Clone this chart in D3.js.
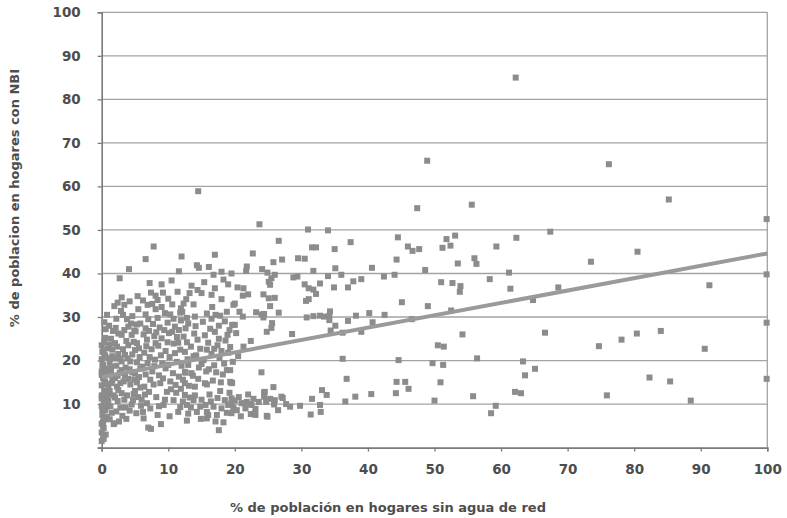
<!DOCTYPE html>
<html><head><meta charset="utf-8">
<script src="https://cdn.jsdelivr.net/npm/d3@7"></script>
<style>
html,body{margin:0;padding:0;background:#fff;}
svg{display:block;}
text{font-family:"DejaVu Sans",sans-serif;font-weight:bold;fill:#4d4d4d;}
</style></head>
<body>
<svg id="chart" width="787" height="518"></svg>
<script>
// ---- data (x: % sin agua de red, y: % con NBI) ----
const xTicks = [0,10,20,30,40,50,60,70,80,90,100];
const yTicks = [10,20,30,40,50,60,70,80,90,100];
const xTitle = "% de población en hogares sin agua de red";
const yTitle = "% de poblacion en hogares con NBI";
const trendIntercept = 16.2;
const trendSlope = 0.284;

const puntosColumnaCero = [
[0,1.5],[0.2,2.5],[0,3.5],[0.3,4.5],[0,5.5],[0.4,6.5],[0.1,7.5],[0.5,8.5],[0,9.5],[0.3,10.5],[0.8,11.2],[0,12],[0.4,13],[1.0,13.6],[0,14.3],[0.5,15.2],[0.2,16],[1.1,16.8],[0,17.5],[0.6,18.2],[0.2,19],[1.2,19.6],[0,20.3],[0.5,21.2],[0.1,22],[0.9,22.8],[0,23.5],[0.5,25.2],[1.7,26.8],[0.3,2],[0.6,3],[0.2,5],[0.8,7],[0.1,8.8],[1.3,9.5],[0.7,10],[1.0,12.3],[1.5,14.8],[0.8,17.2],[1.4,18.5],[1.6,21],[1.2,23.6],[0,16.7],[0,11.3],[0.4,24.2],
[0.2,6],[0.6,9.2],[0.3,11.8],[0.7,14.6],[0.1,18.8],[0.6,20.7],[0.3,22.4],[0.6,27.2],[0.4,28.8],[0.8,30.5]
];
const puntosBajos = [
[1.8,5.4],[1.9,5.6],[3.7,6.6],[2.2,8.3],[2.8,9.2],[3.0,12.5],[3.4,11],[4.7,10.9],[2.5,13.2],[2.3,14.0],[3.3,15.2],[4.3,14.5],[5.8,13.8],[2.0,16],[2.7,17.2],[3.5,16.5],[4.2,18],[5.0,17],[5.6,16.2],[2.2,18.8],[3.0,19.8],[3.9,20.5],[4.6,21.4],[5.3,19.6],[2.5,21.5],[3.2,22.6],[4.0,23.5],[4.8,24.3],[5.6,22.8],[2.0,24],[3.0,25.9],[4.5,25.9],[4.0,27.8],[4.4,28.5],[5.3,28.3],[5.8,28.5],[2.4,33.3],[3.4,32.8],[2.9,31.4],[2.7,38.9],[4.1,41.0],[3.8,29.5],[2.1,27.5],[5.1,26.7],[1.8,12],[4.8,12.3],[5.5,11.6],[5.9,9.6],[4.2,8.5],[3.1,7.3],[5.2,7.9],[2.4,10.7],[1.9,20.5],[5.7,20.8],[3.6,18.4],[4.9,15.6],[1.6,15.5],
[1.2,6.5],[2.6,6.0],[1.5,8.0],[3.6,9.2],[4.5,9.9],[1.0,10.8],[2.0,11.5],[3.8,12.0],[5.0,13.0],[1.2,13.0],[2.8,14.8],[4.0,15.8],[5.3,15.0],[1.4,17.5],[2.4,16.5],[3.0,17.8],[4.6,17.3],[5.8,18.2],[1.3,20.5],[2.7,20.4],[3.5,21.3],[4.3,19.8],[5.0,22.4],[1.6,22.5],[2.3,23.2],[3.7,24.5],[5.3,24.0],[1.4,25.0],[2.5,26.2],[3.4,27.0],[4.9,26.9],[1.1,28.0],[2.2,29.6],[3.2,30.5],[4.6,30.2],[5.5,31.8],[1.9,32.5],[3.0,34.5],[4.2,33.6],[5.4,34.8],
[6.3,6.7],[7.4,4.3],[7.0,4.6],[8.9,5.4],[6.8,10.2],[7.3,9.0],[9.3,9.8],[9.8,12.8],[10.8,10.9],[11.5,8.2],[7.8,14.5],[8.8,14.8],[10.3,15.2],[6.5,12.2],[8.2,11.6],[11.2,12.6],[6.2,8.2],[8.4,7.5],[10.2,7.2],[11.8,9.3],[6.6,16.8],[7.6,17.5],[8.6,16.6],[9.6,18.2],[10.7,17.1],[11.6,16.3],[6.9,19.4],[8.0,20.2],[9.1,19.3],[10.2,20.8],[11.3,19.7],[6.4,21.8],[7.5,22.6],[8.5,23.4],[9.6,22.2],[10.8,23.9],[11.8,22.5],[6.8,24.8],[7.9,25.6],[9.0,25.1],[10.1,26.3],[11.3,25.4],[6.6,27.4],[7.7,28.4],[8.7,27.6],[9.9,28.7],[11.0,27.8],[11.9,29.2],[8.1,31.8],[9.5,30.9],[6.6,30.6],[10.3,30.6],[7.4,35.6],[8.1,34.9],[9.2,35.6],[8.4,33.9],[11.4,35.8],[6.9,32.8],[10.6,32.9],[7.8,46.2],[6.6,43.3],[12.0,43.9],[9.0,37.5],[10.5,38.4],[7.2,37.8],[11.6,40.5],
[6.0,11.0],[7.1,12.8],[8.6,9.5],[9.5,11.0],[10.4,13.4],[11.1,14.4],[6.4,14.0],[7.3,15.6],[9.2,15.9],[11.9,13.5],[6.1,18.6],[7.9,18.7],[8.9,21.2],[10.0,19.0],[11.0,21.7],[6.7,23.3],[7.2,20.8],[8.1,24.0],[9.9,24.2],[11.5,24.1],[6.3,26.0],[7.1,26.8],[8.2,26.5],[9.4,27.0],[10.6,26.6],[11.6,27.0],[7.0,29.5],[8.4,29.8],[9.0,32.3],[10.8,29.6],[11.8,31.0],[6.2,33.8],[7.6,33.0],[10.0,34.2]
];
const puntosMedios = [
[12.8,6.2],[14.9,6.6],[15.8,6.7],[17.1,6.0],[17.6,4.0],[18.3,5.8],[19.5,7.9],[19.8,8.6],[12.5,12.1],[12.8,9.8],[13.8,10.9],[14.3,8.2],[14.8,9.4],[15.8,8.2],[16.8,9.4],[17.3,7.5],[18.5,10.9],[19.0,9.8],[19.5,11.3],[12.5,14.8],[14.0,14.0],[15.8,14.5],[19.5,14.8],[13.2,11.5],[16.2,12.2],[17.8,13],[12.6,17.2],[13.7,16.5],[14.6,18.4],[15.7,17.5],[16.9,18.9],[18.2,16.8],[19.3,17.8],[12.9,20.3],[14.2,21.2],[15.3,20.1],[16.5,21.5],[17.7,20.6],[19.0,21.8],[13.4,23.2],[14.8,22.7],[16.0,24.1],[17.4,23.5],[18.6,24.6],[12.3,25.5],[13.9,26.2],[15.5,25.8],[17.0,26.6],[18.9,25.9],[14.0,30.1],[17.1,30.5],[17.8,30.3],[12.3,33.1],[12.7,34.1],[11.9,32.0],[12.1,31.2],[13.8,32.9],[16.6,32.3],[17.0,36.6],[16.5,35.1],[18.0,34.1],[19.8,32.8],[14.3,41.9],[14.6,41.3],[16.1,41.5],[16.8,39.7],[18.0,40.4],[19.5,40.0],[17.0,44.3],[14.5,58.9],[13.0,28.5],[15.2,28.9],[18.5,29.0],[19.6,28.2],[13.5,37.2],[15.4,38.0],[19.0,37.5],[15.0,35.5],
[12.2,10.6],[13.4,9.2],[14.0,12.0],[15.0,11.0],[15.6,9.8],[16.4,10.6],[17.4,11.4],[18.0,9.0],[18.8,8.0],[13.0,7.8],[16.0,7.5],[19.2,12.6],[12.2,15.6],[13.1,14.2],[14.5,15.8],[16.7,15.4],[17.9,15.0],[12.0,18.8],[13.0,19.0],[15.0,19.2],[16.1,18.0],[17.2,17.3],[18.4,19.3],[19.7,19.7],[12.5,22.0],[13.8,21.0],[15.8,22.5],[16.9,22.7],[18.0,22.2],[19.3,23.1],[12.8,24.2],[14.4,24.8],[17.6,25.0],[12.6,27.4],[14.1,27.9],[16.3,27.3],[17.6,28.0],[19.2,27.0],[12.8,29.8],[15.8,30.8],[16.5,29.6],[18.8,31.2],[13.2,35.5],[14.4,36.2],[18.3,38.6],
[23.7,51.3],[31.0,50.1],[34.0,49.9],[26.6,47.5],[37.4,47.2],[22.7,44.6],[31.6,46.0],[32.2,46.0],[35.0,45.6],[25.8,42.6],[27.1,43.2],[29.5,43.5],[30.5,43.4],[21.8,41.6],[21.7,40.6],[24.1,41.0],[24.9,40.2],[26.0,39.7],[25.5,38.9],[28.8,39.1],[29.4,39.3],[31.8,40.6],[35.1,41.2],[34.0,39.4],[36.0,39.7],[40.6,41.3],[42.4,39.3],[44.0,39.7],[25.1,38.1],[25.3,37.4],[30.5,37.5],[32.8,37.7],[34.9,36.8],[37.8,38.2],[39.0,38.7],[37.0,36.8],[20.4,36.8],[21.3,36.6],[31.1,36.6],[31.8,36.3],[32.2,35.3],[21.2,34.9],[22.0,35.2],[24.3,35.2],[25.1,34.3],[26.0,34.4],[31.1,34.1],[30.7,33.7],[20.0,33.1],[25.3,32.5],[20.7,31.2],[21.2,30.1],[23.2,31.1],[24.0,30.6],[24.4,30.7],[24.3,29.9],[26.6,31.0],[30.8,29.9],[31.8,30.2],[32.8,30.3],[33.4,30.1],[34.2,30.3],[34.3,31.3],[34.2,29.3],[37.0,29.1],[38.2,30.3],[40.2,30.9],[42.5,30.5],[40.7,28.8],[25.6,28.6],[25.5,27.5],[24.8,26.6],[20.0,28.2],[20.2,26.3],[28.6,26.1],[35.1,28.0],[36.2,26.4],[39.0,26.6],[34.4,26.9],
[36.2,20.4],[24.0,17.3],[36.8,15.8],[19.6,14.9],[25.8,13.9],[24.4,12.7],[24.4,11.7],[25.3,11.2],[27.2,11.4],[31.6,11.2],[33.1,13.2],[33.8,12.1],[36.6,10.6],[38.1,11.7],[40.5,12.3],[19.5,10.2],[19.8,9.2],[20.0,10.8],[21.4,10.2],[22.3,10.0],[22.4,7.7],[23.1,7.5],[23.1,8.9],[24.7,10.5],[25.9,9.9],[24.9,7.1],[28.3,9.4],[29.8,9.6],[31.4,7.6],[32.8,9.8],[32.9,8.2],[21.0,10.2],[21.8,10.5],[22.5,9.8],[23.0,7.9],[20.3,8.6],[26.0,10.9],[27.0,11.7],[12.5,17.4],[13.5,17.1],[18.8,17.8],[19.3,15.1],[24.5,12.8],[24.8,7.3],[15.5,14.8],
[20.6,11.6],[21.6,9.0],[22.8,11.2],[23.6,10.5],[26.5,8.6],[27.7,10.0],[20.9,7.2],[22.0,12.2],[21.3,23.2],[20.5,21.0],[22.4,24.5]
];
const puntosAltos = [
[44.5,48.3],[46.0,46.2],[46.7,45.2],[47.7,45.6],[51.8,47.9],[53.1,48.7],[51.2,45.9],[52.4,46.4],[59.3,46.2],[62.3,48.2],[67.4,49.6],[44.3,43.2],[56.0,43.5],[56.3,42.2],[53.5,42.3],[48.6,40.8],[61.2,40.2],[58.3,38.7],[51.0,38.0],[52.7,37.8],[53.9,37.1],[53.8,35.8],[61.4,36.5],[68.6,36.8],[64.8,33.9],[45.1,33.4],[49.0,32.5],[52.5,31.5],[46.6,29.5],[54.2,26.0],[66.6,26.4],[50.5,23.5],[51.4,23.2],[44.6,20.1],[56.4,20.5],[49.7,19.4],[51.3,19.0],[63.3,19.8],[65.1,18.1],[63.6,16.6],[44.3,15.1],[45.6,15.1],[50.9,15.0],[44.2,12.5],[46.1,13.5],[62.1,12.8],[63.0,12.5],[55.8,11.8],[50.0,10.8],[59.2,9.6],[58.5,7.9],
[62.2,85.0],[48.9,65.9],[47.4,55.0],[55.6,55.8]
];
const puntosDerecha = [
[76.2,65.1],[85.2,57.0],[99.9,52.5],[80.5,45.0],[73.5,42.7],[99.9,39.8],[91.3,37.3],[99.9,28.7],[74.7,23.3],[78.1,24.8],[80.4,26.2],[84.0,26.8],[90.6,22.7],[99.9,15.8],[82.3,16.1],[85.4,15.2],[75.9,12.0],[88.5,10.8]
];

// ---- drawing ----
const svg = d3.select("#chart");
const x = d3.scaleLinear().domain([0,100]).range([101.7,767.3]);
const y = d3.scaleLinear().domain([0,100]).range([447.6,12.3]);
const gridColor = "#a3a3a3";
const axisColor = "#7a7a7a";

svg.append("g").selectAll("line").data(yTicks).join("line")
  .attr("x1", x(0)).attr("x2", x(100))
  .attr("y1", d=>y(d)).attr("y2", d=>y(d))
  .attr("stroke", gridColor).attr("stroke-width", 1.3);
svg.append("line").attr("x1", x(100)).attr("x2", x(100)).attr("y1", y(100)).attr("y2", y(0))
  .attr("stroke", gridColor).attr("stroke-width", 1.3);

const yAxis = d3.axisLeft(y).tickValues([0].concat(yTicks)).tickSize(4).tickPadding(17).tickFormat(d=> d===0 ? "" : d);
const gy = svg.append("g").attr("transform", `translate(${x(0)},0)`).call(yAxis);
gy.select(".domain").attr("stroke", axisColor).attr("stroke-width", 1.6);
gy.selectAll(".tick line").attr("stroke", axisColor).attr("stroke-width", 1.3);
gy.selectAll(".tick text").style("font-size","13.5px").style("font-family","DejaVu Sans").style("font-weight","bold").attr("fill","#4d4d4d");

const xAxis = d3.axisBottom(x).tickValues(xTicks).tickSize(4).tickPadding(13);
const gx = svg.append("g").attr("transform", `translate(0,${y(0)})`).call(xAxis);
gx.select(".domain").attr("stroke", axisColor).attr("stroke-width", 1.6);
gx.selectAll(".tick line").attr("stroke", axisColor).attr("stroke-width", 1.3);
gx.selectAll(".tick text").style("font-size","13.5px").style("font-family","DejaVu Sans").style("font-weight","bold").attr("fill","#4d4d4d");

const allPoints = [].concat(puntosColumnaCero, puntosBajos, puntosMedios, puntosAltos, puntosDerecha);
const s = 6;
svg.append("g").selectAll("rect").data(allPoints).join("rect")
  .attr("x", d=>x(d[0]) - s/2).attr("y", d=>y(d[1]) - s/2)
  .attr("width", s).attr("height", s)
  .attr("fill", "#8c8c8c");

svg.append("line")
  .attr("x1", x(0)).attr("y1", y(trendIntercept))
  .attr("x2", x(100)).attr("y2", y(trendIntercept + trendSlope*100))
  .attr("stroke", "#9a9a9a").attr("stroke-width", 4);

svg.append("text").attr("x", 388).attr("y", 512).attr("text-anchor","middle")
  .style("font-size","13px").text(xTitle);
svg.append("text").attr("transform","translate(19,198) rotate(-90)").attr("text-anchor","middle")
  .style("font-size","13px").text(yTitle);
</script>
</body></html>
